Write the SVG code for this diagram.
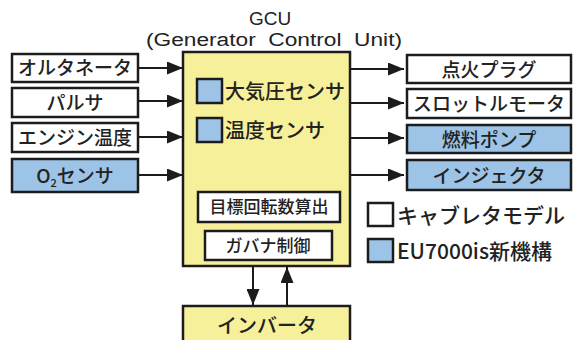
<svg xmlns="http://www.w3.org/2000/svg" width="573" height="340" viewBox="0 0 573 340">
<defs>
<style>
.box{stroke:#1c1c1c;stroke-width:2.5}
.w{fill:#ffffff}
.b{fill:#9dc3e6}
.y{fill:#f6f09a}
.t{font-family:"Noto Sans CJK JP","Liberation Sans",sans-serif;font-weight:500;fill:#222;text-anchor:middle}
.l{font-family:"Noto Sans CJK JP","Liberation Sans",sans-serif;font-weight:500;fill:#222}
.h{font-family:"Liberation Sans","Noto Sans",sans-serif;fill:#222}
.c{stroke:#1c1c1c;stroke-width:2;fill:none}
</style>
<marker id="ah2" viewBox="0 0 10 10" refX="10" refY="5" markerWidth="16" markerHeight="13" markerUnits="userSpaceOnUse" orient="auto" preserveAspectRatio="none">
<path d="M0,0 L10,5 L0,10 z" fill="#1c1c1c"/>
</marker>
</defs>
<rect width="573" height="340" fill="#ffffff"/>

<g id="title">
<text x="270" y="25" class="h" font-size="19" text-anchor="middle">GCU</text>
<text x="146" y="46" class="h" font-size="18" xml:space="preserve" style="white-space:pre" textLength="256" lengthAdjust="spacingAndGlyphs">(Generator  Control  Unit)</text>
</g>

<g id="connectors">
<line class="c" x1="138" y1="68" x2="183" y2="68" marker-end="url(#ah2)"/>
<line class="c" x1="138" y1="101" x2="183" y2="101" marker-end="url(#ah2)"/>
<line class="c" x1="138" y1="137" x2="183" y2="137" marker-end="url(#ah2)"/>
<line class="c" x1="138" y1="175" x2="183" y2="175" marker-end="url(#ah2)"/>
<line class="c" x1="350" y1="69" x2="404" y2="69" marker-end="url(#ah2)"/>
<line class="c" x1="350" y1="103" x2="404" y2="103" marker-end="url(#ah2)"/>
<line class="c" x1="350" y1="138" x2="404" y2="138" marker-end="url(#ah2)"/>
<line class="c" x1="350" y1="175" x2="404" y2="175" marker-end="url(#ah2)"/>
<line class="c" x1="253" y1="266" x2="253" y2="305" marker-end="url(#ah2)"/>
<line class="c" x1="287" y1="305" x2="287" y2="267" marker-end="url(#ah2)"/>
</g>

<g id="in-alternator"><rect class="box w" x="12" y="54" width="126" height="28"/><text class="t" x="75" y="75" font-size="19">オルタネータ</text></g>
<g id="in-pulser"><rect class="box w" x="12" y="88" width="126" height="29"/><text class="t" x="75" y="110" font-size="19">パルサ</text></g>
<g id="in-engine-temp"><rect class="box w" x="12" y="123" width="126" height="29"/><text class="t" x="75" y="145" font-size="19">エンジン温度</text></g>
<g id="in-o2"><rect class="box b" x="12" y="159" width="126" height="33"/><text class="t" x="75" y="183" font-size="19">O<tspan font-size="11" dy="4">2</tspan><tspan dy="-4">センサ</tspan></text></g>

<g id="gcu">
<rect class="box y" x="183" y="52" width="167" height="214"/>
<rect class="box b" x="197" y="79" width="25" height="24"/>
<text class="l" x="225" y="99" font-size="20">大気圧センサ</text>
<rect class="box b" x="197" y="118" width="25" height="24"/>
<text class="l" x="225" y="138" font-size="20">温度センサ</text>
</g>
<g id="target-rpm"><rect class="box w" x="198" y="192" width="142" height="30"/><text class="t" x="269" y="213" font-size="17">目標回転数算出</text></g>
<g id="governor"><rect class="box w" x="205" y="231" width="127" height="29"/><text class="t" x="268" y="252" font-size="17">ガバナ制御</text></g>

<g id="inverter"><rect class="box y" x="183" y="306" width="167" height="40"/><text class="t" x="267" y="333" font-size="20">インバータ</text></g>

<g id="out-spark"><rect class="box w" x="407" y="55" width="164" height="28"/><text class="t" x="489" y="77" font-size="19">点火プラグ</text></g>
<g id="out-throttle"><rect class="box w" x="407" y="89" width="164" height="29"/><text class="t" x="489" y="111" font-size="19">スロットルモータ</text></g>
<g id="out-fuel-pump"><rect class="box b" x="407" y="125" width="164" height="28"/><text class="t" x="489" y="147" font-size="19">燃料ポンプ</text></g>
<g id="out-injector"><rect class="box b" x="407" y="160" width="164" height="30"/><text class="t" x="489" y="183" font-size="19">インジェクタ</text></g>

<g id="legend">
<rect class="box w" x="368" y="203" width="25" height="23"/>
<text class="l" x="397" y="223" font-size="21">キャブレタモデル</text>
<rect class="box b" x="368" y="239" width="25" height="23"/>
<text class="l" x="397" y="259" font-size="21">EU7000is新機構</text>
</g>
</svg>
